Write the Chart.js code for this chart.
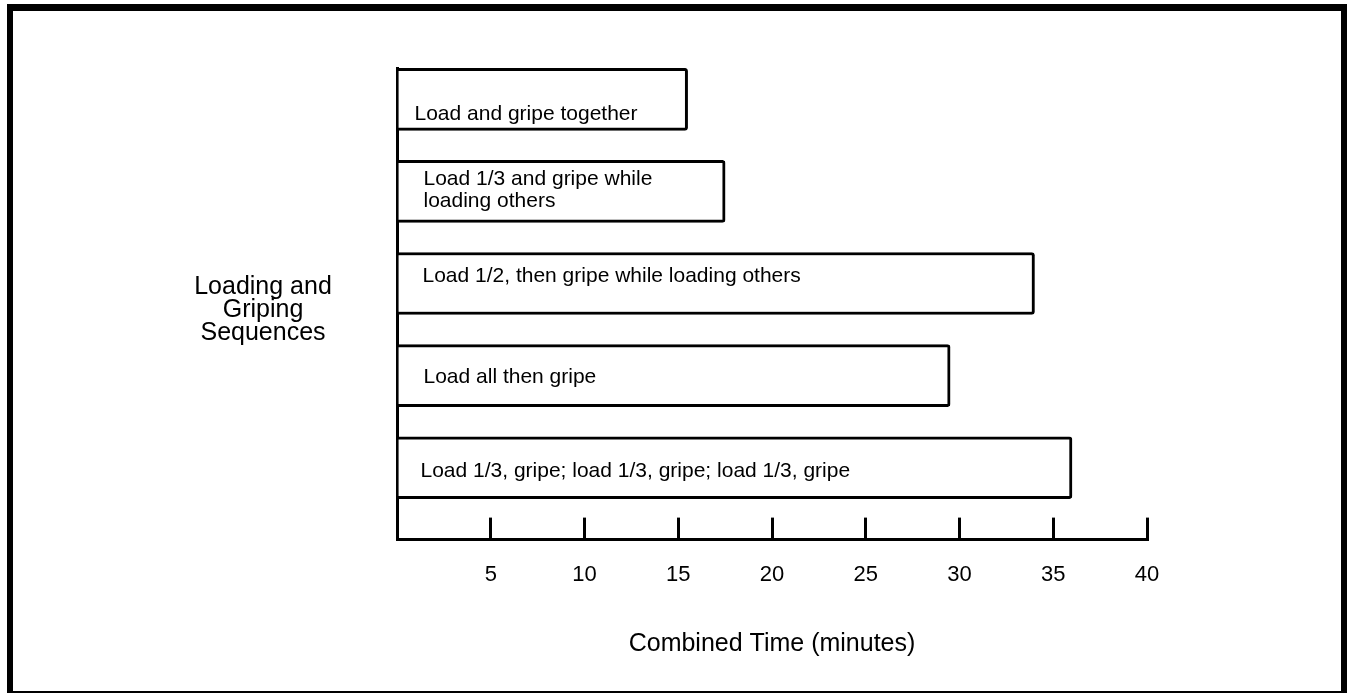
<!DOCTYPE html>
<html>
<head>
<meta charset="utf-8">
<title>Loading and Griping Sequences</title>
<script src="https://cdn.jsdelivr.net/npm/chart.js@4/dist/chart.umd.min.js"></script>
<style>
  html, body { margin: 0; padding: 0; background: #fff; }
  #wrap { position: relative; width: 1347px; height: 693px; }
  #frame {
    position: absolute; left: 7px; top: 4px; width: 1340px; height: 689px;
    box-sizing: border-box; border: solid #000; border-width: 7px 6px 2px 6px;
    pointer-events: none;
  }
</style>
</head>
<body>
<div id="wrap">
  <canvas id="chart" width="1347" height="693"></canvas>
  <div id="frame"></div>
</div>
<script>
const sequences = [
  'Load and gripe together',
  ['Load 1/3 and gripe while', 'loading others'],
  'Load 1/2, then gripe while loading others',
  'Load all then gripe',
  'Load 1/3, gripe; load 1/3, gripe; load 1/3, gripe'
];
const times = [15.5, 17.5, 34, 29.5, 36];
const xTicks = [5, 10, 15, 20, 25, 30, 35, 40];

const FONT = '"Liberation Sans", Arial, sans-serif';
Chart.defaults.font.family = FONT;
Chart.defaults.color = '#000';

// text written inside each bar, near its left end
const barText = {
  id: 'barText',
  afterDatasetsDraw(chart, args, opts) {
    const ctx = chart.ctx;
    ctx.save();
    ctx.fillStyle = '#000';
    ctx.font = '21px ' + FONT;
    ctx.textBaseline = 'middle';
    chart.getDatasetMeta(0).data.forEach((bar, i) => {
      [].concat(sequences[i]).forEach((line, j) => {
        ctx.fillText(line, bar.base + opts.dx[i], bar.y + opts.dy[i] + j * 22);
      });
    });
    ctx.restore();
  }
};

// horizontal y-axis caption, left of the bars
const yCaption = {
  id: 'yCaption',
  afterDraw(chart, args, opts) {
    const ctx = chart.ctx;
    const a = chart.chartArea;
    ctx.save();
    ctx.fillStyle = '#000';
    ctx.font = '25px ' + FONT;
    ctx.textAlign = 'center';
    ctx.textBaseline = 'middle';
    opts.lines.forEach((line, j) => {
      ctx.fillText(line, a.left - 134, a.top + 219 + j * 23);
    });
    ctx.restore();
  }
};

new Chart(document.getElementById('chart'), {
  type: 'bar',
  data: {
    datasets: [{
      data: times.map((t, i) => ({ x: t, y: i + 1 })),
      backgroundColor: '#fff',
      borderColor: '#000',
      borderWidth: 3,
      borderRadius: 3,
      borderSkipped: 'start',
      barThickness: 62
    }]
  },
  options: {
    indexAxis: 'y',
    responsive: false,
    animation: false,
    events: [],
    layout: { padding: { left: 397, right: 200, top: 68, bottom: 36 } },
    plugins: {
      legend: { display: false },
      tooltip: { enabled: false },
      barText: { dx: [16, 25, 24, 25, 22], dy: [15, -12, -7, 2, 3] },
      yCaption: { lines: ['Loading and', 'Griping', 'Sequences'] }
    },
    scales: {
      x: {
        type: 'linear',
        min: 0,
        max: 40,
        afterBuildTicks: s => { s.ticks = [0, ...xTicks].map(v => ({ value: v })); },
        ticks: {
          callback: v => v === 0 ? '' : v,
          color: '#000',
          font: { size: 22 },
          padding: 44,
          maxRotation: 0,
          autoSkip: false
        },
        grid: { drawOnChartArea: false, color: '#000', lineWidth: 3, tickLength: -22 },
        border: { display: true, color: '#000', width: 3 },
        title: {
          display: true,
          text: 'Combined Time (minutes)',
          color: '#000',
          font: { size: 25, lineHeight: 1 },
          padding: 0
        }
      },
      y: {
        type: 'linear',
        reverse: true,
        offset: false,
        min: 0.66,
        max: 5.78,
        z: 1,
        ticks: { display: false },
        grid: { display: false, drawTicks: false },
        border: { display: true, color: '#000', width: 3 }
      }
    }
  },
  plugins: [barText, yCaption]
});
</script>
</body>
</html>
